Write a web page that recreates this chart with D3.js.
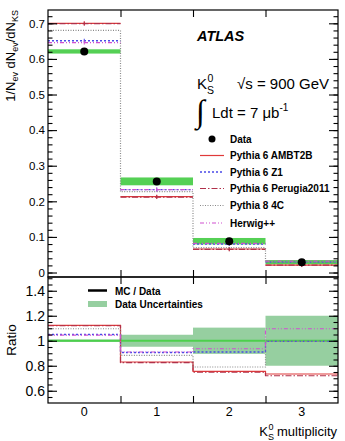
<!DOCTYPE html>
<html>
<head>
<meta charset="utf-8">
<script src="https://cdn.jsdelivr.net/npm/d3@7"></script>
<style>
  body { margin: 0; background: #fff; }
  svg { font-family: "Liberation Sans", Arial, sans-serif; }
</style>
</head>
<body>
<script>
// K0s multiplicity, ATLAS 900 GeV

var bins = [0, 1, 2, 3];
var dataVals = [0.621, 0.256, 0.088, 0.029];
var dataErr = [0.006, 0.011, 0.009, 0.006];
var ratioErr = [0.01, 0.048, 0.105, 0.2];

var mcNames = ["Pythia 6 AMBT2B", "Pythia 6 Z1", "Pythia 6 Perugia2011", "Pythia 8 4C", "Herwig++"];
var mcAMBT2B = [0.700, 0.213, 0.066, 0.021];
var mcZ1 = [0.651, 0.233, 0.080, 0.029];
var mcPerugia = [0.699, 0.212, 0.065, 0.021];
var mc4C = [0.680, 0.227, 0.070, 0.029];
var mcHerwig = [0.646, 0.233, 0.082, 0.032];

var ratioAMBT2B = [1.123, 0.830, 0.755, 0.734];
var ratioZ1 = [1.050, 0.906, 0.910, 0.995];
var ratioPerugia = [1.120, 0.825, 0.748, 0.720];
var ratio4C = [1.096, 0.883, 0.790, 0.995];
var ratioHerwig = [1.045, 0.910, 0.936, 1.096];

var topTicks = [0, 0.1, 0.2, 0.3, 0.4, 0.5, 0.6, 0.7];
var ratioTicks = [0.6, 0.8, 1, 1.2, 1.4];

var styles = [
    { color: "#e03a3a", dash: null, width: 1.2 },
    { color: "#4a4ae8", dash: "2,2", width: 1.3 },
    { color: "#b0304a", dash: "6,2,1.5,2", width: 1.2 },
    { color: "#8a8a8a", dash: "1,1.5", width: 1.2 },
    { color: "#d050d0", dash: "4,2,1,2,1,2", width: 1.2 }
];
var mcTop = [mcAMBT2B, mcZ1, mcPerugia, mc4C, mcHerwig];
var mcRatio = [ratioAMBT2B, ratioZ1, ratioPerugia, ratio4C, ratioHerwig];

var W = 345, H = 441;
var left = 48, right = 338;
var topY0 = 10, topY1 = 277, botY0 = 277, botY1 = 403;

var svg = d3.select("body").append("svg")
    .attr("width", W).attr("height", H);

var x = d3.scaleLinear().domain([-0.5, 3.5]).range([left, right]);
var yTop = d3.scaleLinear().domain([-0.0126, 0.7374]).range([topY1, topY0]);
var yRat = d3.scaleLinear().domain([0.502, 1.51]).range([botY1, botY0]);

// ---- top panel ----
var gTop = svg.append("g");

// data uncertainty band
gTop.selectAll("rect.band").data(bins).enter().append("rect")
    .attr("x", function(d) { return x(d - 0.5); })
    .attr("width", function(d) { return x(d + 0.5) - x(d - 0.5); })
    .attr("y", function(d, i) { return yTop(dataVals[i] + dataErr[i]); })
    .attr("height", function(d, i) { return yTop(dataVals[i] - dataErr[i]) - yTop(dataVals[i] + dataErr[i]); })
    .style("fill", "#55d055");

// MC predictions
mcTop.forEach(function(vals, k) {
    var st = styles[k];
    if (k == 3) {
        // Pythia 8 drawn as a full histogram with steps
        var pts = [];
        bins.forEach(function(b, i) {
            pts.push([x(b - 0.5), yTop(vals[i])]);
            pts.push([x(b + 0.5), yTop(vals[i])]);
        });
        gTop.append("path")
            .attr("d", d3.line()(pts))
            .style("fill", "none").style("stroke", st.color)
            .style("stroke-width", st.width).style("stroke-dasharray", st.dash);
    } else {
        gTop.selectAll("line.mc" + k).data(bins).enter().append("line")
            .attr("x1", function(d) { return x(d - 0.5); })
            .attr("x2", function(d) { return x(d + 0.5); })
            .attr("y1", function(d, i) { return yTop(vals[i]); })
            .attr("y2", function(d, i) { return yTop(vals[i]); })
            .style("stroke", st.color).style("stroke-width", st.width)
            .style("stroke-dasharray", st.dash);
        gTop.selectAll("line.mce" + k).data(bins).enter().append("line")
            .attr("x1", function(d) { return x(d); })
            .attr("x2", function(d) { return x(d); })
            .attr("y1", function(d, i) { return yTop(vals[i]) - 2; })
            .attr("y2", function(d, i) { return yTop(vals[i]) + 2; })
            .style("stroke", st.color).style("stroke-width", 1);
    }
});

// data points
gTop.selectAll("circle.data").data(bins).enter().append("circle")
    .attr("cx", function(d) { return x(d); })
    .attr("cy", function(d, i) { return yTop(dataVals[i]); })
    .attr("r", 4)
    .style("fill", "#000");

// ---- ratio panel ----
var gBot = svg.append("g");

gBot.selectAll("rect.rband").data(bins).enter().append("rect")
    .attr("x", function(d) { return x(d - 0.5); })
    .attr("width", function(d) { return x(d + 0.5) - x(d - 0.5); })
    .attr("y", function(d, i) { return yRat(1 + ratioErr[i]); })
    .attr("height", function(d, i) { return yRat(1 - ratioErr[i]) - yRat(1 + ratioErr[i]); })
    .style("fill", "#96cfa0");

gBot.append("line")
    .attr("x1", x(-0.5)).attr("x2", x(3.5))
    .attr("y1", yRat(1)).attr("y2", yRat(1))
    .style("stroke", "#4cd04c").style("stroke-width", 2);

mcRatio.forEach(function(vals, k) {
    var st = styles[k];
    var pts = [];
    bins.forEach(function(b, i) {
        pts.push([x(b - 0.5), yRat(vals[i])]);
        pts.push([x(b + 0.5), yRat(vals[i])]);
    });
    gBot.append("path")
        .attr("d", d3.line()(pts))
        .style("fill", "none").style("stroke", st.color)
        .style("stroke-width", st.width).style("stroke-dasharray", st.dash);
});

// ---- frames and axes ----
var frame = function(y0, y1) {
    svg.append("rect")
        .attr("x", left).attr("y", y0)
        .attr("width", right - left).attr("height", y1 - y0)
        .style("fill", "none").style("stroke", "#000").style("stroke-width", 1.2);
};
frame(topY0, topY1);
frame(botY0, botY1);

var styleAxis = function(g) {
    g.select(".domain").remove();
    g.selectAll("line").style("stroke", "#000").style("stroke-width", 1.1);
};

// top y axis
var topMinor = d3.range(0, 0.7301, 0.02);
svg.append("g").attr("transform", "translate(" + left + ",0)")
    .call(d3.axisLeft(yTop).tickValues(topTicks).tickSize(-9).tickPadding(3)
        .tickFormat(function(d) { return d == 0 ? "0" : d3.format(".1f")(d); }))
    .call(styleAxis)
    .selectAll("text").style("font-size", "11.5px").style("fill", "#000")
    .style("font-family", "Liberation Sans, Arial, sans-serif");
svg.append("g").attr("transform", "translate(" + left + ",0)")
    .call(d3.axisLeft(yTop).tickValues(topMinor).tickSize(-4.5).tickFormat(""))
    .call(styleAxis);
svg.append("g").attr("transform", "translate(" + right + ",0)")
    .call(d3.axisRight(yTop).tickValues(topTicks).tickSize(-9).tickFormat(""))
    .call(styleAxis);
svg.append("g").attr("transform", "translate(" + right + ",0)")
    .call(d3.axisRight(yTop).tickValues(topMinor).tickSize(-4.5).tickFormat(""))
    .call(styleAxis);

// ratio y axis
var ratMinor = d3.range(0.55, 1.5001, 0.05);
svg.append("g").attr("transform", "translate(" + left + ",0)")
    .call(d3.axisLeft(yRat).tickValues(ratioTicks).tickSize(-9).tickPadding(3)
        .tickFormat(function(d) { return d == 1 ? "1" : d3.format(".1f")(d); }))
    .call(styleAxis)
    .selectAll("text").style("font-size", "14px").style("fill", "#000")
    .style("font-family", "Liberation Sans, Arial, sans-serif");
svg.append("g").attr("transform", "translate(" + left + ",0)")
    .call(d3.axisLeft(yRat).tickValues(ratMinor).tickSize(-4.5).tickFormat(""))
    .call(styleAxis);
svg.append("g").attr("transform", "translate(" + right + ",0)")
    .call(d3.axisRight(yRat).tickValues(ratioTicks).tickSize(-9).tickFormat(""))
    .call(styleAxis);
svg.append("g").attr("transform", "translate(" + right + ",0)")
    .call(d3.axisRight(yRat).tickValues(ratMinor).tickSize(-4.5).tickFormat(""))
    .call(styleAxis);

// x ticks at bin edges on every horizontal frame edge
var edges = [0.5, 1.5, 2.5];
[[topY0, "top"], [topY1, "bottom"], [botY0, "top"], [botY1, "bottom"]].forEach(function(e) {
    var ax = e[1] == "top" ? d3.axisTop(x) : d3.axisBottom(x);
    svg.append("g").attr("transform", "translate(0," + e[0] + ")")
        .call(ax.tickValues(edges).tickSize(-7).tickFormat(""))
        .call(styleAxis);
});

// x tick labels at bin centres
svg.selectAll("text.xlab").data(bins).enter().append("text")
    .attr("x", function(d) { return x(d); })
    .attr("y", 416)
    .attr("text-anchor", "middle")
    .style("font-size", "12.5px")
    .text(function(d) { return d; });

// axis titles
var xt = svg.append("text").attr("x", 337).attr("y", 436)
    .attr("text-anchor", "end").style("font-size", "13px");
xt.append("tspan").text("K");
xt.append("tspan").attr("dy", 4).style("font-size", "9px").text("S");
xt.append("tspan").attr("dx", -5.5).attr("dy", -10).style("font-size", "9px").text("0");
xt.append("tspan").attr("dy", 6).text(" multiplicity");

var yt = svg.append("text")
    .attr("transform", "translate(15,10) rotate(-90)")
    .attr("text-anchor", "end").style("font-size", "13px");
yt.append("tspan").text("1/N");
yt.append("tspan").attr("dy", 3).style("font-size", "9px").text("ev");
yt.append("tspan").attr("dy", -3).text(" dN");
yt.append("tspan").attr("dy", 3).style("font-size", "9px").text("ev");
yt.append("tspan").attr("dy", -3).text("/dN");
yt.append("tspan").attr("dy", 3).style("font-size", "9px").text("KS");

svg.append("text")
    .attr("transform", "translate(16,340) rotate(-90)")
    .attr("text-anchor", "middle").style("font-size", "13.5px")
    .text("Ratio");

// ATLAS label and info
svg.append("text").attr("x", 197).attr("y", 41)
    .style("font-size", "14.5px").style("font-weight", "bold").style("font-style", "italic")
    .text("ATLAS");

var ks = svg.append("text").attr("x", 197).attr("y", 89).style("font-size", "15px");
ks.append("tspan").text("K");
ks.append("tspan").attr("dy", 5).style("font-size", "10.5px").text("S");
ks.append("tspan").attr("dx", -6.5).attr("dy", -12).style("font-size", "10.5px").text("0");

svg.append("text").attr("x", 237).attr("y", 89).style("font-size", "15px")
    .text("\u221As = 900 GeV");

svg.append("text").attr("x", 196).attr("y", 122).style("font-size", "32px")
    .style("font-family", "Liberation Serif, serif")
    .text("\u222B");

var lum = svg.append("text").attr("x", 212).attr("y", 118).style("font-size", "15px");
lum.append("tspan").text("Ldt = 7 \u03BCb");
lum.append("tspan").attr("dy", -7).style("font-size", "10px").text("-1");

// legend (top)
var legY = [139, 155.5, 172, 188.5, 205.5, 223];
svg.append("circle").attr("cx", 212).attr("cy", legY[0]).attr("r", 3.5).style("fill", "#000");
svg.append("text").attr("x", 230).attr("y", legY[0] + 3.5)
    .style("font-size", "10px").style("font-weight", "bold").text("Data");
mcNames.forEach(function(name, k) {
    var st = styles[k];
    svg.append("line")
        .attr("x1", 200).attr("x2", 224)
        .attr("y1", legY[k + 1]).attr("y2", legY[k + 1])
        .style("stroke", st.color).style("stroke-width", st.width)
        .style("stroke-dasharray", st.dash);
    svg.append("text").attr("x", 230).attr("y", legY[k + 1] + 3.5)
        .style("font-size", "10px").style("font-weight", "bold").text(name);
});

// legend (ratio)
svg.append("line").attr("x1", 88).attr("x2", 107).attr("y1", 290.5).attr("y2", 290.5)
    .style("stroke", "#000").style("stroke-width", 2.5);
svg.append("text").attr("x", 115).attr("y", 294.5)
    .style("font-size", "10px").style("font-weight", "bold").text("MC / Data");
svg.append("rect").attr("x", 88).attr("y", 301).attr("width", 19).attr("height", 6)
    .style("fill", "#96cfa0");
svg.append("text").attr("x", 115).attr("y", 307.5)
    .style("font-size", "10px").style("font-weight", "bold").text("Data Uncertainties");
</script>
</body>
</html>
